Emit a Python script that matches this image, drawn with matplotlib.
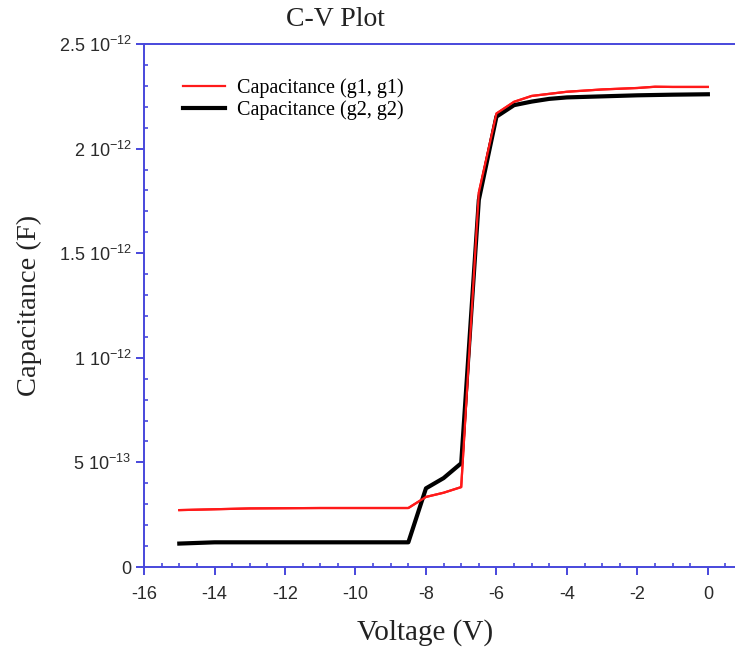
import numpy as np
import matplotlib
matplotlib.use('Agg')
import matplotlib.pyplot as plt
from matplotlib.ticker import MultipleLocator, FixedLocator, FixedFormatter

# C-V data (capacitance in units of 1e-12 F)
volt_g1 = [-15, -14, -13, -12, -11, -10, -9, -8.5, -8.0, -7.5, -7.0, -6.5, -6.0, -5.5, -5.0, -4.0, -3.0, -2.0, -1.5, -1.0, 0.0]
cap_g1 = [0.272, 0.276, 0.280, 0.281, 0.282, 0.282, 0.282, 0.282, 0.335, 0.355, 0.382, 1.79, 2.168, 2.224, 2.252, 2.272, 2.283, 2.290, 2.296, 2.295, 2.295]

volt_g2 = [-15, -14, -13, -12, -11, -10, -9, -8.5, -8.0, -7.5, -7.0, -6.5, -6.0, -5.5, -5.0, -4.5, -4.0, -3.0, -2.0, -1.0, 0.0]
cap_g2 = [0.112, 0.118, 0.118, 0.118, 0.118, 0.118, 0.118, 0.118, 0.376, 0.425, 0.496, 1.755, 2.153, 2.208, 2.225, 2.238, 2.245, 2.250, 2.255, 2.258, 2.260]

ytick_vals = [0, 0.5, 1.0, 1.5, 2.0, 2.5]
ytick_labels = ['0', '5 10$^{\\mathregular{-13}}$', '1 10$^{\\mathregular{-12}}$',
                '1.5 10$^{\\mathregular{-12}}$', '2 10$^{\\mathregular{-12}}$', '2.5 10$^{\\mathregular{-12}}$']

blue = '#4848dc'
serif = 'Liberation Serif'
sans = 'Liberation Sans'
plt.rcParams['axes.unicode_minus'] = False

fig = plt.figure(figsize=(7.35, 6.48), dpi=100)
ax = fig.add_axes([0.196, 0.125, 0.804, 0.807])

ax.plot(volt_g1, cap_g1, color='#ff1a1a', lw=1.6, label='Capacitance (g1, g1)')
ax.plot(volt_g2, cap_g2, color='black', lw=3.0, label='Capacitance (g2, g2)')
ax.plot(volt_g1, cap_g1, color='#ff1a1a', lw=1.6)

ax.set_xlim(-16, 0.77)
ax.set_ylim(0, 2.5)

ax.xaxis.set_major_locator(MultipleLocator(2))
ax.xaxis.set_minor_locator(MultipleLocator(0.5))
ax.yaxis.set_major_locator(FixedLocator(ytick_vals))
ax.yaxis.set_major_formatter(FixedFormatter(ytick_labels))
ax.yaxis.set_minor_locator(MultipleLocator(0.1))

for s in ['left', 'bottom', 'top']:
    ax.spines[s].set_color(blue)
    ax.spines[s].set_linewidth(1.4)
ax.spines['right'].set_visible(False)

ax.tick_params(which='major', direction='out', length=6, width=1.4, color=blue,
               labelsize=13, labelcolor='#2a2a2a')
ax.tick_params(axis='x', which='major', pad=8)
ax.tick_params(axis='y', which='major', pad=3)
ax.tick_params(which='minor', direction='in', length=3, width=1.2, color=blue)
ax.tick_params(top=False, right=False, which='both')
for lab in ax.get_xticklabels() + ax.get_yticklabels():
    lab.set_fontfamily(sans)

ax.set_xlabel('Voltage (V)', fontsize=21, fontfamily=serif, color='#222222')
ax.xaxis.set_label_coords(0.475, -0.1)
ax.set_ylabel('Capacitance (F)', fontsize=20.5, fontfamily=serif, color='#222222')
ax.yaxis.set_label_coords(-0.173, 0.5)

fig.text(0.457, 0.970, 'C-V Plot', fontsize=20, fontfamily=serif, ha='center', va='center', color='#222222')

leg = ax.legend(loc='upper left', bbox_to_anchor=(0.035, 0.97), frameon=False,
                prop={'family': serif, 'size': 14.5}, handlelength=2.1,
                handletextpad=0.6, labelspacing=0.12)

fig.savefig('out.png', dpi=100)
